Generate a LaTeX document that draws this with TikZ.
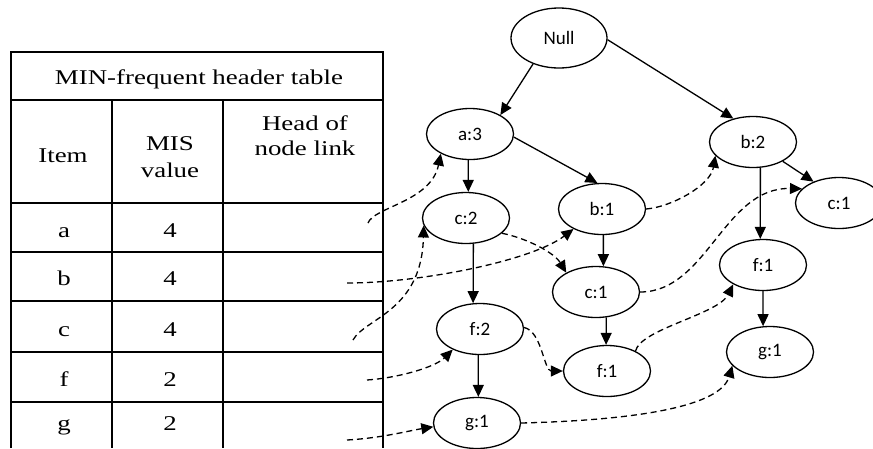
\documentclass[tikz,border=0pt]{standalone}
\usepackage{fontspec}
\usetikzlibrary{arrows.meta,shapes.geometric}
\newfontfamily\tabfont{Liberation Serif}[FakeStretch=1.28]
\newfontfamily\treefont{Carlito}

\begin{document}
\begin{tikzpicture}[x=1pt,y=-1pt,
  grid/.style={line width=1.4pt},
  cell/.style={font=\tabfont\fontsize{21}{25}\selectfont, inner sep=0pt, anchor=base},
  tnode/.style={ellipse, draw, line width=1.3pt, minimum width=87pt, minimum height=51pt,
                inner sep=0pt, font=\treefont\fontsize{19}{22}\selectfont},
  edge/.style={line width=1.3pt, -{Triangle[length=12pt,width=11pt]}},
  nlink/.style={line width=1.3pt, dash pattern=on 6pt off 4pt, -{Triangle[length=12pt,width=11pt]}}]

\useasboundingbox (0,0) rectangle (873,448);

% ---- header table ----
\draw[grid] (11,448) -- (11,52) -- (383,52) -- (383,448);
\draw[grid] (11,100) -- (383,100);
\foreach \yy in {203,252,301,352,402} \draw[grid] (11,\yy) -- (383,\yy);
\draw[grid] (112,100) -- (112,448);
\draw[grid] (223,100) -- (223,448);

\node[cell] (title) at (199,84) {MIN-frequent header table};
\node[cell] (hitem) at (63,162) {Item};
\node[cell] (hmis1) at (170,150) {MIS};
\node[cell] (hmis2) at (170,177) {value};
\node[cell] (hhead1) at (305,130) {Head of};
\node[cell] (hhead2) at (305,155) {node link};

\node[cell] (ia) at (64,237) {a};  \node[cell] (va) at (170,237) {4};
\node[cell] (ib) at (64,285) {b};  \node[cell] (vb) at (170,285) {4};
\node[cell] (ic) at (64,336) {c};  \node[cell] (vc) at (170,336) {4};
\node[cell] (if) at (64,386) {f};  \node[cell] (vf) at (170,386) {2};
\node[cell] (ig) at (64,430) {g};  \node[cell] (vg) at (170,430) {2};

% free ends of the node links inside the table
\coordinate (la) at (368,223);
\coordinate (lb) at (347,283);
\coordinate (lc) at (353,340);
\coordinate (lf) at (367,380);
\coordinate (lg) at (347,440);

% ---- tree ----
\node[tnode, minimum width=96pt, minimum height=60pt] (null) at (559,38) {Null};
\node[tnode] (a3)  at (470,134) {a:3};
\node[tnode] (c2)  at (466,218) {c:2};
\node[tnode] (b1)  at (602,209) {b:1};
\node[tnode] (c1)  at (596,292) {c:1};
\node[tnode] (f2)  at (480,329) {f:2};
\node[tnode] (f1)  at (607,371) {f:1};
\node[tnode] (g1)  at (477,423) {g:1};
\node[tnode] (b2)  at (753,142) {b:2};
\node[tnode] (c1r) at (839,203) {c:1};
\node[tnode] (f1r) at (763,265) {f:1};
\node[tnode] (g1r) at (770,352) {g:1};

% tree edges
\draw[edge] (null.225) -- (a3.32);
\draw[edge] (null.-2)  -- (b2.130);
\draw[edge] (a3.-94.5) -- (c2.85.5);
\draw[edge] (a3.-4)    -- (b1.100);
\draw[edge] (c2.-74.5) -- (f2.105.5);
\draw[edge] (b1.-87.7) -- (c1.74.5);
\draw[edge] (c1.-68)   -- (f1.92);
\draw[edge] (f2.-94.5) -- (g1.87.7);
\draw[edge] (b2.-74.5) -- (f1r.96.7);
\draw[edge] (f1r.-90)  -- (g1r.105.5);
\draw[edge] (b2.-33)   -- (c1r.140);

% node links
\draw[nlink] (la) .. controls +(6,-16) and +(-10,48) .. (a3.214);
\draw[nlink] (lb) .. controls +(73,0) and +(-42,32) .. (b1.215);
\draw[nlink] (lc) .. controls +(12,-22) and +(-2,86) .. (c2.190);
\draw[nlink] (lf) .. controls +(30,-2) and +(-18,18) .. (f2.217);
\draw[nlink] (lg) .. controls +(35,-2) and +(-25,4) .. (g1.185);
\draw[nlink] (c2.-23) .. controls +(25,5) and +(-12,-20) .. (c1.147);
\draw[nlink] (f2.2) .. controls +(18,4) and +(-19,0) .. (f1.180);
\draw[nlink] (b1.0) .. controls +(25,-2) and +(-5,30) .. (b2.200);
\draw[nlink] (c1.0) .. controls +(67,0) and +(-78,-2) .. (c1r.159);
\draw[nlink] (f1.35) .. controls +(5,-22) and +(-15,30) .. (f1r.213);
\draw[nlink] (g1.0) .. controls +(120,-3) and +(-12,40) .. (g1r.200);

\end{tikzpicture}
\end{document}
